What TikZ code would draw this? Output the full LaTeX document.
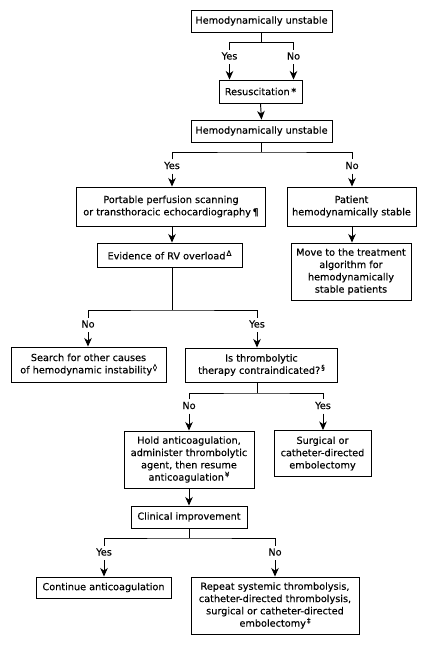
\documentclass[tikz,border=0pt]{standalone}
\usepackage{fontspec}
\setmainfont{DejaVu Sans}[FakeBold=0.25]
\usetikzlibrary{arrows.meta}
\newcommand\smk[1]{\kern1pt\raisebox{3.6pt}{\fontsize{7.2}{7.2}\selectfont #1}}
\begin{document}
\begin{tikzpicture}[x=1pt,y=-1pt,
  every node/.style={font=\fontsize{9.7}{12.3}\selectfont},
  boxn/.style={draw, line width=0.95pt, align=center, inner sep=1pt},
  lab/.style={inner sep=2.5pt, text height=7pt, text depth=2pt},
  conn/.style={line width=0.95pt},
  arr/.style={line width=0.95pt, -{Stealth[length=8.5pt,width=7.5pt,inset=2.5pt]}}]
\useasboundingbox (0,0) rectangle (428,646);
\fill[white] (0,0) rectangle (428,646);

% boxes
\node[boxn, minimum width=141, minimum height=22] (b1) at (261.5,21) {Hemodynamically unstable};
\node[boxn, minimum width=83, minimum height=23] (b2) at (260.5,91.5) {Resuscitation\,*};
\node[boxn, minimum width=141, minimum height=22] (b3) at (261.5,131) {Hemodynamically unstable};
\node[boxn, minimum width=189, minimum height=39] (b4) at (171,206.5) {Portable perfusion scanning\\or transthoracic echocardiography\,¶};
\node[boxn, minimum width=129, minimum height=39] (b5) at (351.5,206.5) {Patient\\hemodynamically stable};
\node[boxn, minimum width=145, minimum height=24] (b7) at (169.5,255) {Evidence of RV overload\smk{Δ}};
\node[boxn, minimum width=120, minimum height=57] (b6) at (351,271.5) {Move to the treatment\\algorithm for\\hemodynamically\\stable patients};
\node[boxn, minimum width=155, minimum height=35] (b8) at (88.5,364.5) {Search for other causes\\of hemodynamic instability\smk{◊}};
\node[boxn, minimum width=152, minimum height=34] (b9) at (261.5,365) {Is thrombolytic\\therapy contraindicated?\smk{§}};
\node[boxn, minimum width=130, minimum height=57] (b10) at (189,459.5) {Hold anticoagulation,\\administer thrombolytic\\agent, then resume\\anticoagulation\smk{¥}};
\node[boxn, minimum width=97, minimum height=46] (b11) at (322.5,453.5) {Surgical or\\catheter-directed\\embolectomy};
\node[boxn, minimum width=116, minimum height=22] (b12) at (189,517) {Clinical improvement};
\node[boxn, minimum width=135, minimum height=21] (b13) at (103.5,587.5) {Continue anticoagulation};
\node[boxn, minimum width=168, minimum height=57] (b14) at (275,605.5) {Repeat systemic thrombolysis,\\catheter-directed thrombolysis,\\surgical or catheter-directed\\embolectomy\smk{‡}};

% labels
\node[lab] (y1) at (229.5,57) {Yes};
\node[lab] (n1) at (293.5,57) {No};
\node[lab] (y2) at (172,166.5) {Yes};
\node[lab] (n2) at (352,166.5) {No};
\node[lab] (n3) at (88,325) {No};
\node[lab] (y3) at (257,325) {Yes};
\node[lab] (n4) at (189,406.5) {No};
\node[lab] (y4) at (323,406.5) {Yes};
\node[lab] (y5) at (104,553) {Yes};
\node[lab] (n5) at (275,553) {No};

% junctions
\coordinate (j1) at (261.5,42.7);
\coordinate (j2) at (261.5,152);
\coordinate (j3) at (172,310);
\coordinate (j4) at (257,393);
\coordinate (j5) at (189,538);

% connectors
\draw[conn] (b1.south) -- (j1);
\draw[conn] (y1.north) |- (j1) -| (n1.north);
\draw[arr] (y1.south) -- (y1.south |- b2.north);
\draw[arr] (n1.south) -- (n1.south |- b2.north);
\draw[arr] (b2.south) -- (b3.north);

\draw[conn] (b3.south) -- (j2);
\draw[conn] (y2.north) |- (j2) -| (n2.north);
\draw[arr] (y2.south) -- (y2.south |- b4.north);
\draw[arr] (n2.south) -- (n2.south |- b5.north);
\draw[arr] (b4.south -| j3) -- (j3 |- b7.north);
\draw[arr] (b5.south -| n2) -- (n2 |- b6.north);

\draw[conn] (j3 |- b7.south) -- (j3);
\draw[conn] (n3.north) |- (j3) -| (y3.north);
\draw[arr] (n3.south) -- (n3.south |- b8.north);
\draw[arr] (y3.south) -- (y3.south |- b9.north);

\draw[conn] (j4 |- b9.south) -- (j4);
\draw[conn] (n4.north) |- (j4) -| (y4.north);
\draw[arr] (n4.south) -- (n4.south |- b10.north);
\draw[arr] (y4.south) -- (y4.south |- b11.north);
\draw[arr] (b10.south) -- (b12.north);

\draw[conn] (b12.south) -- (j5);
\draw[conn] (y5.north) |- (j5) -| (n5.north);
\draw[arr] (y5.south) -- (y5.south |- b13.north);
\draw[arr] (n5.south) -- (n5.south |- b14.north);
\end{tikzpicture}
\end{document}
